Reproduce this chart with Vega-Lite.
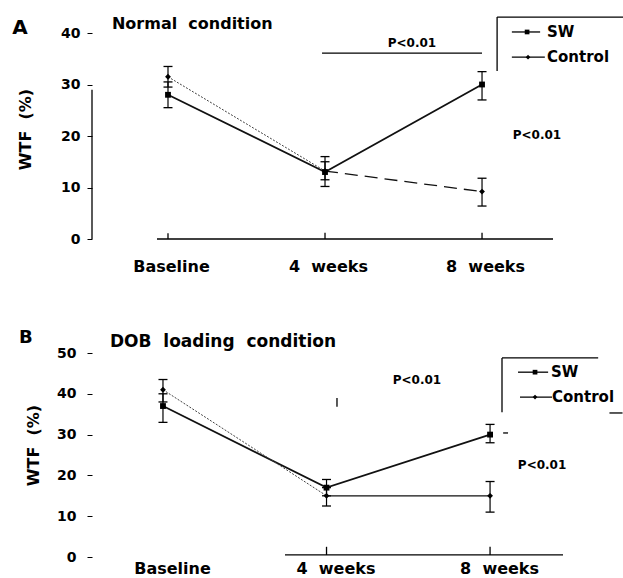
{
  "$schema": "https://vega.github.io/schema/vega-lite/v6.json",
  "autosize": {"type": "none"},
  "padding": {"left": 92, "top": 33, "right": 531, "bottom": 545},
  "bounds": "flush",
  "spacing": 114,
  "config": {
    "view": {"stroke": null},
    "font": "DejaVu Sans",
    "axis": {"grid": false, "labelFont": "DejaVu Sans", "labelFontWeight": "bold", "labelColor": "#000", "labelFontSize": 14, "titleFont": "DejaVu Sans", "titleFontWeight": "bold", "titleColor": "#000", "titleFontSize": 16, "tickColor": "#000", "domainColor": "#000"},
    "text": {"font": "DejaVu Sans", "fontWeight": "bold", "color": "#000", "baseline": "middle"}
  },
  "datasets": {
    "A_pts": [
      {"series": "SW", "t": 0, "v": 28, "lo": 25.5, "hi": 30.5},
      {"series": "SW", "t": 1, "v": 13, "lo": 11.5, "hi": 15},
      {"series": "SW", "t": 2, "v": 30, "lo": 27, "hi": 32.5},
      {"series": "Control", "t": 0, "v": 31.5, "lo": 29.5, "hi": 33.5},
      {"series": "Control", "t": 1, "v": 13.2, "lo": 10.2, "hi": 16},
      {"series": "Control", "t": 2, "v": 9.2, "lo": 6.4, "hi": 11.8}
    ],
    "A_rules": [
      {"t": -0.07, "t2": 2.452, "v": 0, "v2": 0},
      {"t": -0.484, "t2": -0.484, "v": 0, "v2": 29},
      {"t": 0, "t2": 0, "v": 0, "v2": 1.1},
      {"t": 1, "t2": 1, "v": 0, "v2": 1.2},
      {"t": 2, "t2": 2, "v": 0, "v2": 1.2},
      {"t": 0.981, "t2": 2.0, "v": 36.1, "v2": 36.1},
      {"t": 2.096, "t2": 2.898, "v": 43.1, "v2": 43.1},
      {"t": 2.096, "t2": 2.096, "v": 43.1, "v2": 32.6},
      {"t": 2.19, "t2": 2.37, "v": 40.2, "v2": 40.2},
      {"t": 2.19, "t2": 2.40, "v": 35.3, "v2": 35.3}
    ],
    "A_leg": [
      {"series": "SW", "t": 2.287, "v": 40.2},
      {"series": "Control", "t": 2.293, "v": 35.3}
    ],
    "A_text": [
      {"kind": "letter", "t": -0.943, "v": 41.0, "label": "A"},
      {"kind": "title", "t": -0.357, "v": 41.7, "label": "Normal\u00a0\u00a0condition"},
      {"kind": "p", "t": 1.554, "v": 38.1, "label": "P<0.01"},
      {"kind": "p", "t": 2.35, "v": 20.2, "label": "P<0.01"},
      {"kind": "leg", "t": 2.414, "v": 40.2, "label": "SW"},
      {"kind": "leg", "t": 2.414, "v": 35.3, "label": "Control"}
    ],
    "B_pts": [
      {"series": "SW", "t": 0, "v": 37, "lo": 33, "hi": 40},
      {"series": "SW", "t": 1, "v": 17, "lo": 15, "hi": 19},
      {"series": "SW", "t": 2, "v": 30, "lo": 28, "hi": 32.5},
      {"series": "Control", "t": 0, "v": 41, "lo": 38, "hi": 43.5},
      {"series": "Control", "t": 1, "v": 15, "lo": 12.5, "hi": 17},
      {"series": "Control", "t": 2, "v": 15, "lo": 11, "hi": 18.5}
    ],
    "B_rules": [
      {"t": 0.746, "t2": 2.446, "v": 0.5, "v2": 0.5},
      {"t": 1, "t2": 1, "v": 0.5, "v2": 2.5},
      {"t": 2, "t2": 2, "v": 0.5, "v2": 2.5},
      {"t": 1.064, "t2": 1.064, "v": 36.8, "v2": 39},
      {"t": 2.073, "t2": 2.661, "v": 48.8, "v2": 48.8},
      {"t": 2.073, "t2": 2.073, "v": 48.8, "v2": 35.5},
      {"t": 2.171, "t2": 2.355, "v": 45.3, "v2": 45.3},
      {"t": 2.183, "t2": 2.379, "v": 39.2, "v2": 39.2},
      {"t": 2.73, "t2": 2.81, "v": 35.3, "v2": 35.3},
      {"t": 2.08, "t2": 2.11, "v": 30.4, "v2": 30.4}
    ],
    "B_leg": [
      {"series": "SW", "t": 2.275, "v": 45.3},
      {"series": "Control", "t": 2.275, "v": 39.2}
    ],
    "B_text": [
      {"kind": "letter", "t": -0.838, "v": 53.7, "label": "B"},
      {"kind": "title", "t": -0.324, "v": 52.7, "label": "DOB\u00a0\u00a0loading\u00a0\u00a0condition"},
      {"kind": "p", "t": 1.553, "v": 43.4, "label": "P<0.01"},
      {"kind": "p", "t": 2.318, "v": 22.5, "label": "P<0.01"},
      {"kind": "leg", "t": 2.373, "v": 45.3, "label": "SW"},
      {"kind": "leg", "t": 2.379, "v": 39.2, "label": "Control"}
    ]
  },
  "vconcat": [
    {
      "width": 461,
      "height": 206,
      "layer": [
        {
          "data": {"name": "A_rules"},
          "mark": {"type": "rule", "color": "#000", "strokeWidth": 1.3},
          "encoding": {
            "x": {"field": "t", "type": "quantitative", "scale": {"domain": [-0.484, 2.452], "nice": false, "zero": false},
              "axis": {"values": [0, 1, 2], "labelExpr": "datum.value==0?'Baseline':datum.value==1?'4\u00a0\u00a0weeks':'8\u00a0\u00a0weeks'", "domain": false, "ticks": false, "labelPadding": 19, "labelOffset": 3, "labelFontSize": 16, "title": null, "labelBound": false, "labelOverlap": false, "labelFlush": false}},
            "x2": {"field": "t2"},
            "y": {"field": "v", "type": "quantitative", "scale": {"domain": [0, 40], "nice": false, "zero": false},
              "axis": {"values": [0, 10, 20, 30, 40], "domain": false, "tickSize": 5, "labelPadding": 7, "labelFontSize": 14, "title": "WTF\u00a0\u00a0(%)", "titleX": -67, "titleY": 96, "titleBaseline": "middle"}},
            "y2": {"field": "v2"}
          }
        },
        {
          "data": {"name": "A_pts"},
          "mark": {"type": "rule", "color": "#000", "strokeWidth": 1.2},
          "encoding": {
            "x": {"field": "t", "type": "quantitative"},
            "y": {"field": "lo", "type": "quantitative"},
            "y2": {"field": "hi"}
          }
        },
        {
          "data": {"name": "A_pts"},
          "mark": {"type": "tick", "orient": "horizontal", "size": 9, "thickness": 1.3, "color": "#000", "opacity": 1},
          "encoding": {
            "x": {"field": "t", "type": "quantitative"},
            "y": {"field": "lo", "type": "quantitative"}
          }
        },
        {
          "data": {"name": "A_pts"},
          "mark": {"type": "tick", "orient": "horizontal", "size": 9, "thickness": 1.3, "color": "#000", "opacity": 1},
          "encoding": {
            "x": {"field": "t", "type": "quantitative"},
            "y": {"field": "hi", "type": "quantitative"}
          }
        },
        {
          "data": {"name": "A_pts"},
          "transform": [{"filter": "datum.series=='SW'"}],
          "mark": {"type": "line", "color": "#111", "strokeWidth": 1.8},
          "encoding": {
            "x": {"field": "t", "type": "quantitative"},
            "y": {"field": "v", "type": "quantitative"}
          }
        },
        {
          "data": {"name": "A_pts"},
          "transform": [{"filter": "datum.series=='Control' && datum.t<=1"}],
          "mark": {"type": "line", "color": "#444", "strokeWidth": 1, "strokeDash": [2, 1.5]},
          "encoding": {
            "x": {"field": "t", "type": "quantitative"},
            "y": {"field": "v", "type": "quantitative"}
          }
        },
        {
          "data": {"name": "A_pts"},
          "transform": [{"filter": "datum.series=='Control' && datum.t>=1"}],
          "mark": {"type": "line", "color": "#111", "strokeWidth": 1.3, "strokeDash": [13, 7]},
          "encoding": {
            "x": {"field": "t", "type": "quantitative"},
            "y": {"field": "v", "type": "quantitative"}
          }
        },
        {
          "data": {"name": "A_pts"},
          "mark": {"type": "point", "filled": true, "color": "#000", "opacity": 1, "size": 34},
          "encoding": {
            "x": {"field": "t", "type": "quantitative"},
            "y": {"field": "v", "type": "quantitative"},
            "shape": {"field": "series", "type": "nominal", "scale": {"domain": ["SW", "Control"], "range": ["square", "diamond"]}, "legend": null}
          }
        },
        {
          "data": {"name": "A_leg"},
          "mark": {"type": "point", "filled": true, "color": "#000", "opacity": 1, "size": 22},
          "encoding": {
            "x": {"field": "t", "type": "quantitative"},
            "y": {"field": "v", "type": "quantitative"},
            "shape": {"field": "series", "type": "nominal", "legend": null}
          }
        },
        {
          "data": {"name": "A_text"},
          "transform": [{"filter": "datum.kind=='letter'"}],
          "mark": {"type": "text", "fontSize": 20, "align": "center"},
          "encoding": {
            "x": {"field": "t", "type": "quantitative"},
            "y": {"field": "v", "type": "quantitative"},
            "text": {"field": "label"}
          }
        },
        {
          "data": {"name": "A_text"},
          "transform": [{"filter": "datum.kind=='title'"}],
          "mark": {"type": "text", "fontSize": 16, "align": "left"},
          "encoding": {
            "x": {"field": "t", "type": "quantitative"},
            "y": {"field": "v", "type": "quantitative"},
            "text": {"field": "label"}
          }
        },
        {
          "data": {"name": "A_text"},
          "transform": [{"filter": "datum.kind=='p'"}],
          "mark": {"type": "text", "fontSize": 12, "align": "center"},
          "encoding": {
            "x": {"field": "t", "type": "quantitative"},
            "y": {"field": "v", "type": "quantitative"},
            "text": {"field": "label"}
          }
        },
        {
          "data": {"name": "A_text"},
          "transform": [{"filter": "datum.kind=='leg'"}],
          "mark": {"type": "text", "fontSize": 15, "align": "left"},
          "encoding": {
            "x": {"field": "t", "type": "quantitative"},
            "y": {"field": "v", "type": "quantitative"},
            "text": {"field": "label"}
          }
        }
      ]
    },
    {
      "width": 471,
      "height": 204,
      "layer": [
        {
          "data": {"name": "B_rules"},
          "mark": {"type": "rule", "color": "#000", "strokeWidth": 1.3},
          "encoding": {
            "x": {"field": "t", "type": "quantitative", "scale": {"domain": [-0.434, 2.446], "nice": false, "zero": false},
              "axis": {"values": [0, 1, 2], "labelExpr": "datum.value==0?'Baseline':datum.value==1?'4\u00a0\u00a0weeks':'8\u00a0\u00a0weeks'", "domain": false, "ticks": false, "labelPadding": 3, "labelOffset": 9, "labelFontSize": 16, "title": null, "labelBound": false, "labelOverlap": false, "labelFlush": false}},
            "x2": {"field": "t2"},
            "y": {"field": "v", "type": "quantitative", "scale": {"domain": [0, 50], "nice": false, "zero": false},
              "axis": {"values": [0, 10, 20, 30, 40, 50], "domain": false, "tickSize": 5, "labelPadding": 11, "labelFontSize": 14, "title": "WTF\u00a0\u00a0(%)", "titleX": -59, "titleY": 92, "titleBaseline": "middle"}},
            "y2": {"field": "v2"}
          }
        },
        {
          "data": {"name": "B_pts"},
          "mark": {"type": "rule", "color": "#000", "strokeWidth": 1.2},
          "encoding": {
            "x": {"field": "t", "type": "quantitative"},
            "y": {"field": "lo", "type": "quantitative"},
            "y2": {"field": "hi"}
          }
        },
        {
          "data": {"name": "B_pts"},
          "mark": {"type": "tick", "orient": "horizontal", "size": 9, "thickness": 1.3, "color": "#000", "opacity": 1},
          "encoding": {
            "x": {"field": "t", "type": "quantitative"},
            "y": {"field": "lo", "type": "quantitative"}
          }
        },
        {
          "data": {"name": "B_pts"},
          "mark": {"type": "tick", "orient": "horizontal", "size": 9, "thickness": 1.3, "color": "#000", "opacity": 1},
          "encoding": {
            "x": {"field": "t", "type": "quantitative"},
            "y": {"field": "hi", "type": "quantitative"}
          }
        },
        {
          "data": {"name": "B_pts"},
          "transform": [{"filter": "datum.series=='SW'"}],
          "mark": {"type": "line", "color": "#111", "strokeWidth": 1.8},
          "encoding": {
            "x": {"field": "t", "type": "quantitative"},
            "y": {"field": "v", "type": "quantitative"}
          }
        },
        {
          "data": {"name": "B_pts"},
          "transform": [{"filter": "datum.series=='Control' && datum.t<=1"}],
          "mark": {"type": "line", "color": "#444", "strokeWidth": 1, "strokeDash": [2, 1.5]},
          "encoding": {
            "x": {"field": "t", "type": "quantitative"},
            "y": {"field": "v", "type": "quantitative"}
          }
        },
        {
          "data": {"name": "B_pts"},
          "transform": [{"filter": "datum.series=='Control' && datum.t>=1"}],
          "mark": {"type": "line", "color": "#111", "strokeWidth": 1.3},
          "encoding": {
            "x": {"field": "t", "type": "quantitative"},
            "y": {"field": "v", "type": "quantitative"}
          }
        },
        {
          "data": {"name": "B_pts"},
          "mark": {"type": "point", "filled": true, "color": "#000", "opacity": 1, "size": 34},
          "encoding": {
            "x": {"field": "t", "type": "quantitative"},
            "y": {"field": "v", "type": "quantitative"},
            "shape": {"field": "series", "type": "nominal", "scale": {"domain": ["SW", "Control"], "range": ["square", "diamond"]}, "legend": null}
          }
        },
        {
          "data": {"name": "B_leg"},
          "mark": {"type": "point", "filled": true, "color": "#000", "opacity": 1, "size": 22},
          "encoding": {
            "x": {"field": "t", "type": "quantitative"},
            "y": {"field": "v", "type": "quantitative"},
            "shape": {"field": "series", "type": "nominal", "legend": null}
          }
        },
        {
          "data": {"name": "B_text"},
          "transform": [{"filter": "datum.kind=='letter'"}],
          "mark": {"type": "text", "fontSize": 18, "align": "center"},
          "encoding": {
            "x": {"field": "t", "type": "quantitative"},
            "y": {"field": "v", "type": "quantitative"},
            "text": {"field": "label"}
          }
        },
        {
          "data": {"name": "B_text"},
          "transform": [{"filter": "datum.kind=='title'"}],
          "mark": {"type": "text", "fontSize": 17, "align": "left"},
          "encoding": {
            "x": {"field": "t", "type": "quantitative"},
            "y": {"field": "v", "type": "quantitative"},
            "text": {"field": "label"}
          }
        },
        {
          "data": {"name": "B_text"},
          "transform": [{"filter": "datum.kind=='p'"}],
          "mark": {"type": "text", "fontSize": 12, "align": "center"},
          "encoding": {
            "x": {"field": "t", "type": "quantitative"},
            "y": {"field": "v", "type": "quantitative"},
            "text": {"field": "label"}
          }
        },
        {
          "data": {"name": "B_text"},
          "transform": [{"filter": "datum.kind=='leg'"}],
          "mark": {"type": "text", "fontSize": 15, "align": "left"},
          "encoding": {
            "x": {"field": "t", "type": "quantitative"},
            "y": {"field": "v", "type": "quantitative"},
            "text": {"field": "label"}
          }
        }
      ]
    }
  ]
}
